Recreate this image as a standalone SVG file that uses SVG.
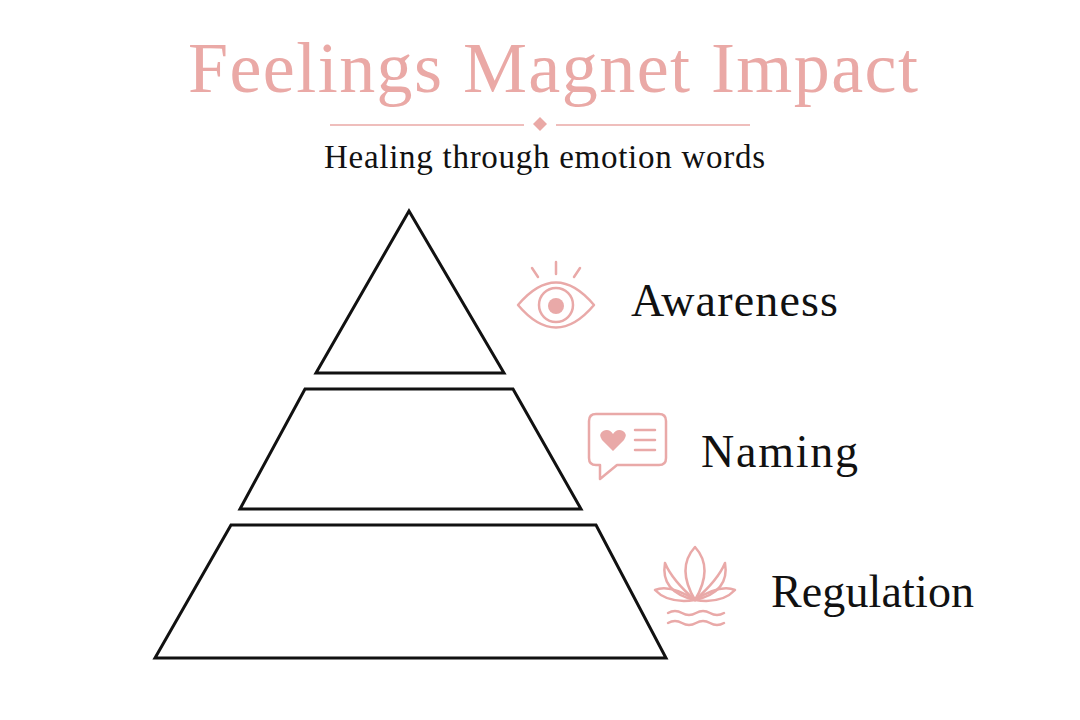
<svg xmlns="http://www.w3.org/2000/svg" width="1080" height="720" viewBox="0 0 1080 720">
<style>
.pyr{fill:#fff;stroke:#111;stroke-width:3;stroke-linejoin:miter}
.ic{fill:none;stroke:#e9a9a8;stroke-width:2.5;stroke-linecap:round;stroke-linejoin:round}
.lab{font-family:"Liberation Serif",serif;font-size:46px;fill:#111}
</style>
<rect width="1080" height="720" fill="#fff"/>
<g id="title">
<text x="188" y="92" textLength="730" lengthAdjust="spacing" font-family="Liberation Serif,serif" font-size="72" fill="#eaa9a6">Feelings Magnet Impact</text>
<line x1="330" y1="125" x2="524" y2="125" stroke="#eaa9a6" stroke-width="1.5"/>
<line x1="556" y1="125" x2="750" y2="125" stroke="#eaa9a6" stroke-width="1.5"/>
<path d="M540 117 L547 124 L540 131 L533 124 Z" fill="#eaa9a6"/>
<text x="324" y="168" textLength="441" lengthAdjust="spacing" font-family="Liberation Serif,serif" font-size="33" fill="#111">Healing through emotion words</text>
</g>
<g id="pyramid">
<polygon class="pyr" points="409,211 504,373 316,373"/>
<polygon class="pyr" points="305,389 513,389 581,509 240,509"/>
<polygon class="pyr" points="231,525 596,525 666,658 155,658"/>
</g>
<g id="awareness">
<path class="ic" d="M518 305 Q556 260 594 305 Q556 350 518 305 Z"/>
<circle class="ic" cx="556" cy="305" r="17"/>
<circle cx="556" cy="306" r="8" fill="#e9a9a8"/>
<line class="ic" x1="556" y1="262" x2="556" y2="274"/>
<line class="ic" x1="532" y1="268" x2="538" y2="277"/>
<line class="ic" x1="580" y1="268" x2="574" y2="277"/>
<text class="lab" x="631" y="316" textLength="207" lengthAdjust="spacing">Awareness</text>
</g>
<g id="naming">
<path class="ic" d="M596 414 H659 Q666 414 666 421 V458 Q666 465 659 465 H617 L600 479 V465 H596 Q589 465 589 458 V421 Q589 414 596 414 Z"/>
<path d="M613 451 L602 440 Q598 434 603 431 Q609 428 613 434 Q617 428 623 431 Q628 434 624 440 Z" fill="#e9a9a8"/>
<line class="ic" x1="635" y1="430" x2="655" y2="430"/>
<line class="ic" x1="635" y1="440" x2="655" y2="440"/>
<line class="ic" x1="635" y1="450" x2="655" y2="450"/>
<text class="lab" x="701" y="467" textLength="157" lengthAdjust="spacing">Naming</text>
</g>
<g id="regulation">
<path class="ic" d="M695 547 Q714 568 695 600 Q676 568 695 547 Z"/>
<path class="ic" d="M695 600 Q672 580 665 563 Q660 592 695 600"/>
<path class="ic" d="M695 600 Q718 580 725 563 Q730 592 695 600"/>
<path class="ic" d="M695 600 Q670 584 655 590 Q668 604 695 600"/>
<path class="ic" d="M695 600 Q720 584 735 590 Q722 604 695 600"/>
<path class="ic" d="M668 613 q7 -4 14 0 t14 0 t14 0 t14 0"/>
<path class="ic" d="M668 623 q7 -4 14 0 t14 0 t14 0 t14 0"/>
<text class="lab" x="771" y="607" textLength="203" lengthAdjust="spacing">Regulation</text>
</g>
</svg>
